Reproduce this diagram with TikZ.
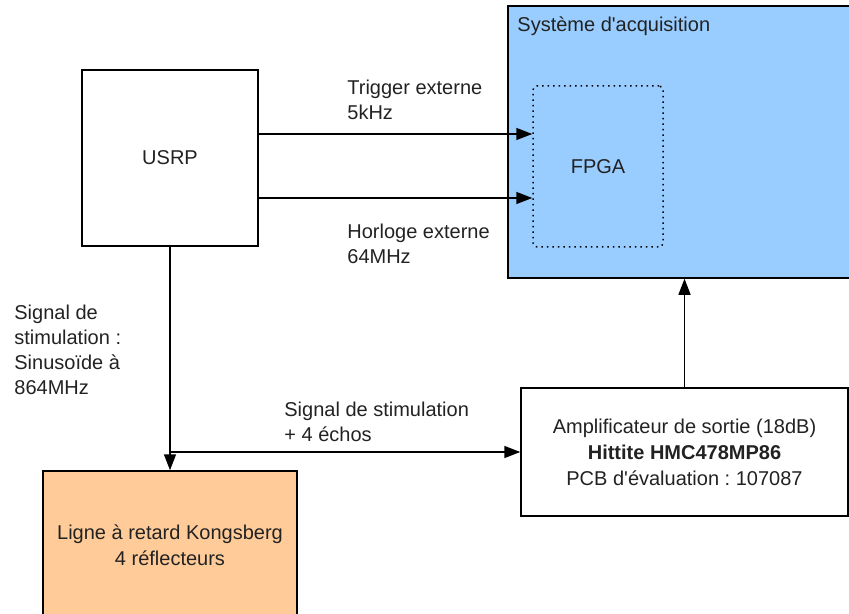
\documentclass[tikz,border=0pt]{standalone}
\usepackage{fontspec}
\setmainfont{Liberation Sans}[Ligatures=TeXOff]
\frenchspacing
\usepackage{tikz}
\newcommand{\linew}{0.75pt}
\definecolor{acqBlue}{RGB}{153,204,255}
\definecolor{delayOrange}{RGB}{255,204,153}
\definecolor{textGray}{RGB}{34,34,34}
\usetikzlibrary{arrows.meta,calc,positioning}
\tikzset{
  >={Triangle[length=8pt,width=6pt]},
  font=\fontsize{10}{12.5}\selectfont,
  block/.style={draw,shape=rectangle,line width=\linew,inner sep=0,align=center,text=textGray,font=\fontsize{10}{13}\selectfont},
  lbl/.style={anchor=north west,inner sep=0,align=left,text=textGray},
  line/.style={draw,->,line width=\linew},
}

\begin{document}
\begin{tikzpicture}[x=0.5pt,y=-0.5pt]
    \clip (0,0) rectangle (849,614);

    % boxes
    \node (sys) [block,fill=acqBlue,minimum width=176pt,minimum height=136pt] at (684,142) {};
    \node (systxt) [lbl] at (517,16) {Système d'acquisition};
    \node (fpga) [block,dotted,rounded corners=2pt,minimum width=65pt,minimum height=80.5pt] at (598,166.5) {FPGA};
    \node (usrp) [block,fill=white,minimum width=88pt,minimum height=88pt] at (170,158) {USRP};
    \node (amp) [block,fill=white,minimum width=163.5pt,minimum height=64pt] at (684.5,452) {
      Amplificateur de sortie (18dB)\\
      \textbf{Hittite HMC478MP86}\\
      PCB d'évaluation : 107087};
    \node (ligne) [block,fill=delayOrange,minimum width=127pt,minimum height=74pt] at (170,545) {
      Ligne à retard Kongsberg\\
      4 réflecteurs};

    \coordinate (trigy) at (0,134);
    \coordinate (clky) at (0,198);
    \coordinate (split) at (170,452);

    % connectors
    \path [line] (usrp.east |- trigy) -- (fpga.west |- trigy);
    \path [line] (usrp.east |- clky) -- (fpga.west |- clky);
    \path [line] (usrp) -- (ligne);
    \path [line] (split) -- (amp.west);
    \path [line] (amp) -- (amp |- sys.south);

    % labels
    \node (trigtxt) [lbl] at (347,80) {Trigger externe\\5kHz};
    \node (clktxt) [lbl] at (347,224) {Horloge externe\\64MHz};
    \node (stimtxt) [lbl] at (14,305) {Signal de\\stimulation :\\Sinusoïde à\\864MHz};
    \node (echotxt) [lbl] at (284,402) {Signal de stimulation\\+ 4 échos};
  \end{tikzpicture}
\end{document}
